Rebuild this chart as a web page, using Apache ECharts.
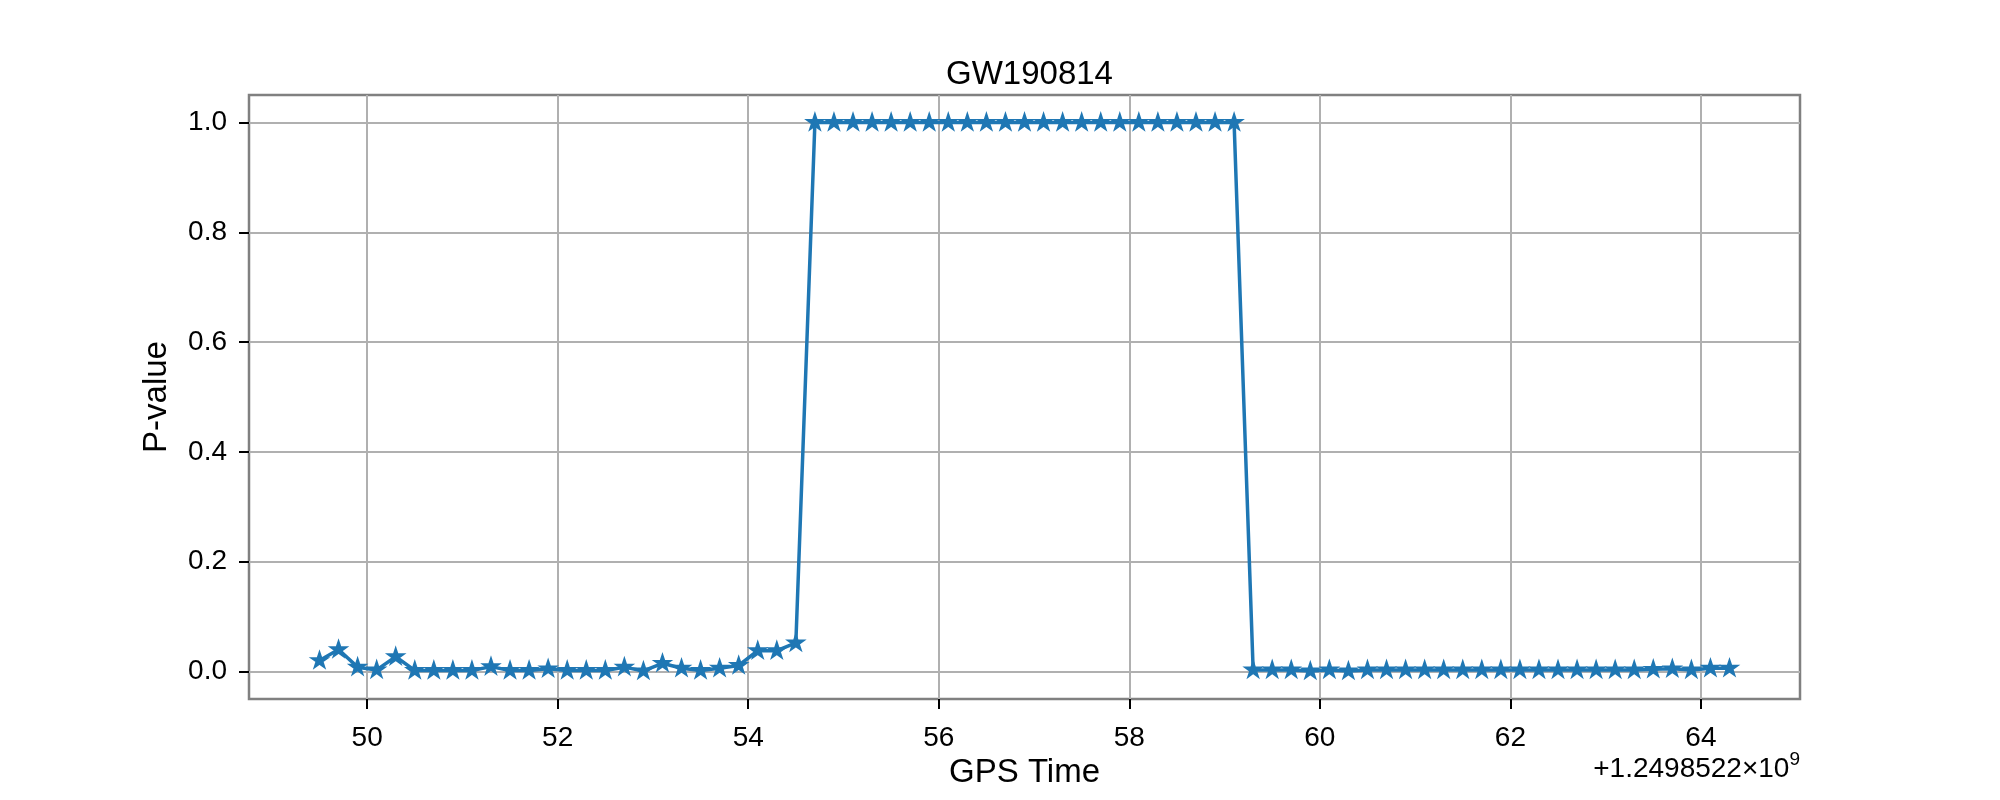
<!DOCTYPE html>
<html>
<head>
<meta charset="utf-8">
<script src="https://cdn.jsdelivr.net/npm/echarts@6/dist/echarts.min.js"></script>
<style>html,body{margin:0;padding:0;background:#fff}#c{width:2000px;height:800px}</style>
</head>
<body>
<div id="c"></div>
<script>
const titleText = 'GW190814';
const xName = 'GPS Time';
const yName = 'P-value';
const gpsTimes = [49.5,49.7,49.9,50.1,50.3,50.5,50.7,50.9,51.1,51.3,51.5,51.7,51.9,52.1,52.3,52.5,52.7,52.9,53.1,53.3,53.5,53.7,53.9,54.1,54.3,54.5,
  54.7,54.9,55.1,55.3,55.5,55.7,55.9,56.1,56.3,56.5,56.7,56.9,57.1,57.3,57.5,57.7,57.9,58.1,58.3,58.5,58.7,58.9,59.1,
  59.3,59.5,59.7,59.9,60.1,60.3,60.5,60.7,60.9,61.1,61.3,61.5,61.7,61.9,62.1,62.3,62.5,62.7,62.9,63.1,63.3,63.5,63.7,63.9,64.1,64.3];
const pValues = [0.020,0.040,0.008,0.003,0.027,0.002,0.002,0.002,0.002,0.009,0.002,0.002,0.005,0.002,0.002,0.002,0.008,0.001,0.015,0.006,0.002,0.006,0.011,0.038,0.038,0.052,
  1,1,1,1,1,1,1,1,1,1,1,1,1,1,1,1,1,1,1,1,1,1,1,
  0.003,0.003,0.003,0.001,0.003,0.001,0.003,0.003,0.003,0.003,0.003,0.003,0.003,0.003,0.003,0.003,0.003,0.003,0.003,0.003,0.003,0.004,0.005,0.003,0.006,0.006];
const xTicks = [50,52,54,56,58,60,62,64];
const yTicks = [0,0.2,0.4,0.6,0.8,1.0];
const offsetBase = '+1.2498522×10';
const offsetExp = '9';

const FONT = 'Liberation Sans';
const star = 'path://M0,-1 L0.2245,-0.309 L0.9511,-0.309 L0.3633,0.118 L0.5878,0.809 L0,0.382 L-0.5878,0.809 L-0.3633,0.118 L-0.9511,-0.309 L-0.2245,-0.309 Z';
const chart = echarts.init(document.getElementById('c'), null, {renderer: 'canvas'});
chart.setOption({
  backgroundColor: '#fff',
  animation: false,
  textStyle: {fontFamily: FONT},
  title: {
    text: titleText, left: 1024.5, top: 53, textAlign: 'center',
    textStyle: {fontFamily: FONT, fontSize: 33, fontWeight: 'normal', color: '#000'}
  },
  grid: {left: 249, right: 200, top: 95, bottom: 101, show: true, borderColor: '#808080', borderWidth: 2.5, backgroundColor: 'transparent'},
  xAxis: {
    type: 'value', min: 48.76, max: 65.04,
    name: xName, nameLocation: 'middle', nameGap: 57,
    nameTextStyle: {fontFamily: FONT, fontSize: 33, color: '#000'},
    axisLine: {show: false, onZero: false},
    axisTick: {show: true, customValues: xTicks, length: 10, lineStyle: {color: '#000', width: 2}},
    axisLabel: {customValues: xTicks, margin: 25, fontFamily: FONT, fontSize: 28, color: '#000', formatter: v => String(v)},
    splitLine: {show: true, lineStyle: {color: '#b0b0b0', width: 2}}
  },
  yAxis: {
    type: 'value', min: -0.05, max: 1.05,
    name: yName, nameLocation: 'middle', nameGap: 76,
    nameTextStyle: {fontFamily: FONT, fontSize: 33, color: '#000'},
    axisLine: {show: false, onZero: false},
    axisTick: {show: true, customValues: yTicks, length: 10, lineStyle: {color: '#000', width: 2}},
    axisLabel: {customValues: yTicks, margin: 22, fontFamily: FONT, fontSize: 28, color: '#000', formatter: v => v.toFixed(1)},
    splitLine: {show: true, lineStyle: {color: '#b0b0b0', width: 2}}
  },
  graphic: [{
    type: 'text', right: 200, top: 750,
    style: {
      text: '{b|' + offsetBase + '}{s|' + offsetExp + '}',
      rich: {
        b: {fontFamily: FONT, fontSize: 28, color: '#000', verticalAlign: 'bottom'},
        s: {fontFamily: FONT, fontSize: 19, color: '#000', verticalAlign: 'top', padding: [0,0,14,0]}
      }
    }
  }],
  series: [{
    type: 'line',
    data: gpsTimes.map((t, i) => [t, pValues[i]]),
    lineStyle: {color: '#1f77b4', width: 3.5},
    itemStyle: {color: '#1f77b4', borderColor: '#1f77b4', borderWidth: 2},
    symbol: star, symbolSize: [15.5, 14.7], symbolOffset: [0, -0.7],
    showSymbol: true, showAllSymbol: true,
    clip: false
  }]
});
</script>
</body>
</html>
